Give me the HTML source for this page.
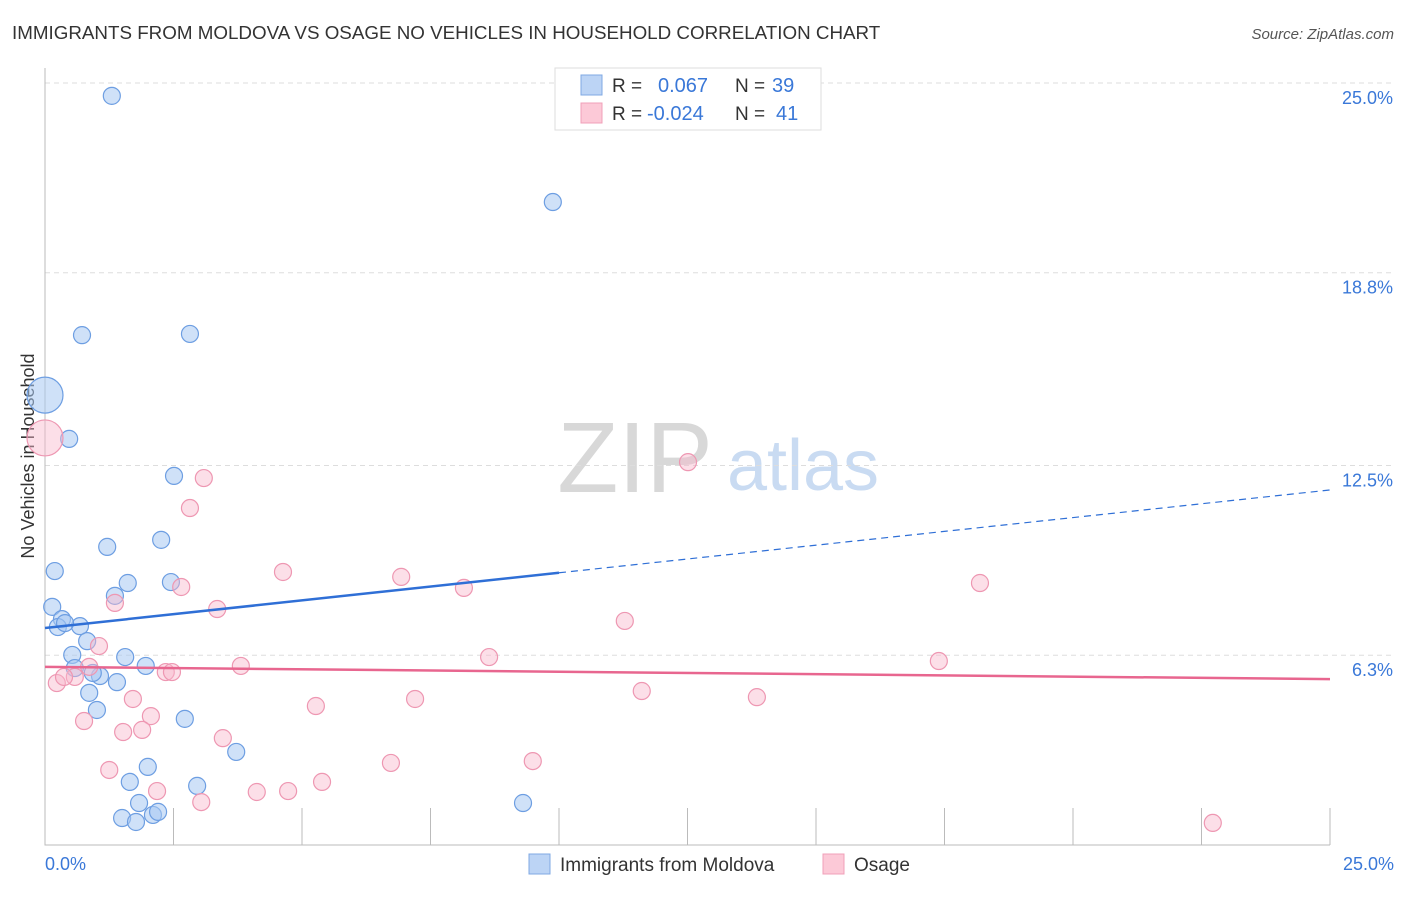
<!DOCTYPE html>
<html><head><meta charset="utf-8"><style>
body{margin:0;background:#fff;font-family:"Liberation Sans",sans-serif;}
svg text{font-family:"Liberation Sans",sans-serif;}
</style></head><body>
<svg id="c" width="1406" height="892">
<text x="12" y="39" font-size="18.8" fill="#333">IMMIGRANTS FROM MOLDOVA VS OSAGE NO VEHICLES IN HOUSEHOLD CORRELATION CHART</text>
<text x="1394" y="39" font-size="15" fill="#555" font-style="italic" text-anchor="end">Source: ZipAtlas.com</text>
<text x="0" y="0" transform="translate(34,456) rotate(-90)" font-size="18" fill="#333" text-anchor="middle">No Vehicles in Household</text>
<text x="635" y="492" font-size="100" fill="#d8d8d8" font-family="Liberation Serif" text-anchor="middle">ZIP</text>
<text x="803" y="490" font-size="72" fill="#c9dbf2" text-anchor="middle">atlas</text>
<g id="grid"></g><g id="marks"></g><g id="lines"></g>
<g>
<rect x="555" y="68" width="266" height="62" fill="#fff" stroke="#ddd"/>
<rect x="581" y="75" width="21" height="20" fill="#bcd4f5" stroke="#7fa8e3"/>
<rect x="581" y="103" width="21" height="20" fill="#fcc9d7" stroke="#f0a0b8"/>
<text x="612" y="92" font-size="19" fill="#333">R = </text><text x="658" y="92" font-size="20" fill="#3a78d8">0.067</text>
<text x="735" y="92" font-size="19" fill="#333">N = </text><text x="772" y="92" font-size="20" fill="#3a78d8">39</text>
<text x="612" y="120" font-size="19" fill="#333">R = </text><text x="647" y="120" font-size="20" fill="#3a78d8">-0.024</text>
<text x="735" y="120" font-size="19" fill="#333">N = </text><text x="776" y="120" font-size="20" fill="#3a78d8">41</text>
</g>
<g>
<rect x="529" y="854" width="21" height="20" fill="#bcd4f5" stroke="#7fa8e3"/>
<text x="560" y="871" font-size="19" fill="#333">Immigrants from Moldova</text>
<rect x="823" y="854" width="21" height="20" fill="#fcc9d7" stroke="#f0a0b8"/>
<text x="854" y="871" font-size="19" fill="#333">Osage</text>
</g>
</svg>
<script>
const blueX=[1.30,9.88,0.72,2.82,0,0.47,2.51,1.21,2.26,0.19,1.61,2.45,0.14,1.36,0.33,0.25,0.68,0.82,0.53,1.56,1.96,0.58,1.07,0.93,1.40,0.86,1.01,2.72,3.72,2.00,1.65,2.96,1.83,9.30,1.50,1.77,2.10,2.20,0.39];
const blueY=[24.58,21.11,16.76,16.80,14.80,13.37,12.16,9.84,10.07,9.05,8.66,8.69,7.88,8.24,7.48,7.22,7.25,6.76,6.31,6.24,5.95,5.88,5.62,5.72,5.42,5.07,4.51,4.22,3.14,2.65,2.16,2.03,1.47,1.47,0.98,0.85,1.08,1.18,7.35];
const blueBig=[4];
const pinkX=[0,12.51,3.09,2.82,4.63,6.93,8.15,2.65,18.19,1.36,3.35,11.28,1.05,8.64,17.39,3.81,0.86,2.35,2.47,0.58,0.23,0.37,11.61,13.85,7.20,1.71,5.27,2.06,0.76,1.52,1.89,3.46,9.49,6.73,1.25,5.39,2.18,4.12,4.73,3.04,22.72];
const pinkY=[13.40,12.61,12.09,11.11,9.02,8.86,8.50,8.53,8.66,8.01,7.81,7.42,6.60,6.24,6.11,5.95,5.92,5.75,5.75,5.59,5.39,5.59,5.13,4.93,4.87,4.87,4.64,4.31,4.15,3.79,3.86,3.59,2.84,2.78,2.55,2.16,1.86,1.83,1.86,1.50,0.82];
const pinkBig=[0];
const yTicks=[25,18.8,12.5,6.3];
const yTickLabels=["25.0%","18.8%","12.5%","6.3%"];
const xTickVals=[5,10,15,20,25,30,35,40,45,50];
const blueTrend=[7.19,11.70];
const pinkTrend=[5.92,5.52];
const blueSolidEnd=10;
const NS="http://www.w3.org/2000/svg";
const X=v=>45+v*51.4, Y=v=>848-v*30.6;
function mk(t,a,p){const e=document.createElementNS(NS,t);for(const k in a)e.setAttribute(k,a[k]);document.getElementById(p).appendChild(e);return e;}
yTicks.forEach((t,i)=>{
 const g=mk('line',{x1:45,x2:1395,y1:Y(t),y2:Y(t),stroke:'#ddd','stroke-dasharray':'5,4'},'grid');
 
 
 const l=mk('text',{x:1393,y:Y(t)+21,'font-size':18,fill:'#3a78d8','text-anchor':'end'},'grid');
 l.textContent=yTickLabels[i];
 
 
});
const ax=mk('path',{d:'M45,68 V845 H1330',stroke:'#bbb',fill:'none'},'grid');


xTickVals.forEach(v=>{
 const t=mk('line',{x1:X(v/2),x2:X(v/2),y1:808,y2:845,stroke:'#bbb'},'grid');
 
 
});
[["0.0%",45,'start'],["25.0%",1394,'end']].forEach(a=>{
 const l=mk('text',{x:a[1],y:870,'font-size':18,fill:'#3a78d8','text-anchor':a[2]},'grid');
 l.textContent=a[0];
 
 
});
function pts(xs,ys,big,fill,stroke,name){xs.forEach((x,i)=>{
 const c=mk('circle',{cx:X(x),cy:Y(ys[i]),r:big.includes(i)?18:8.5,fill:fill,stroke:stroke,'stroke-width':1.2},'marks');
 
 
});}
pts(blueX,blueY,blueBig,'rgba(168,200,242,0.55)','#6d9ee2','moldova-point');
pts(pinkX,pinkY,pinkBig,'rgba(248,185,205,0.45)','#ee97b2','osage-point');
const bm=blueTrend[0]+(blueTrend[1]-blueTrend[0])*blueSolidEnd/25;
let l1=mk('line',{x1:X(0),y1:Y(blueTrend[0]),x2:X(blueSolidEnd),y2:Y(bm),stroke:'#2f6fd6','stroke-width':2.5},'lines');


let l2=mk('line',{x1:X(blueSolidEnd),y1:Y(bm),x2:X(25),y2:Y(blueTrend[1]),stroke:'#2f6fd6','stroke-width':1.2,'stroke-dasharray':'7,5'},'lines');


let l3=mk('line',{x1:X(0),y1:Y(pinkTrend[0]),x2:X(25),y2:Y(pinkTrend[1]),stroke:'#e8668f','stroke-width':2.5},'lines');


</script>
</body></html>
